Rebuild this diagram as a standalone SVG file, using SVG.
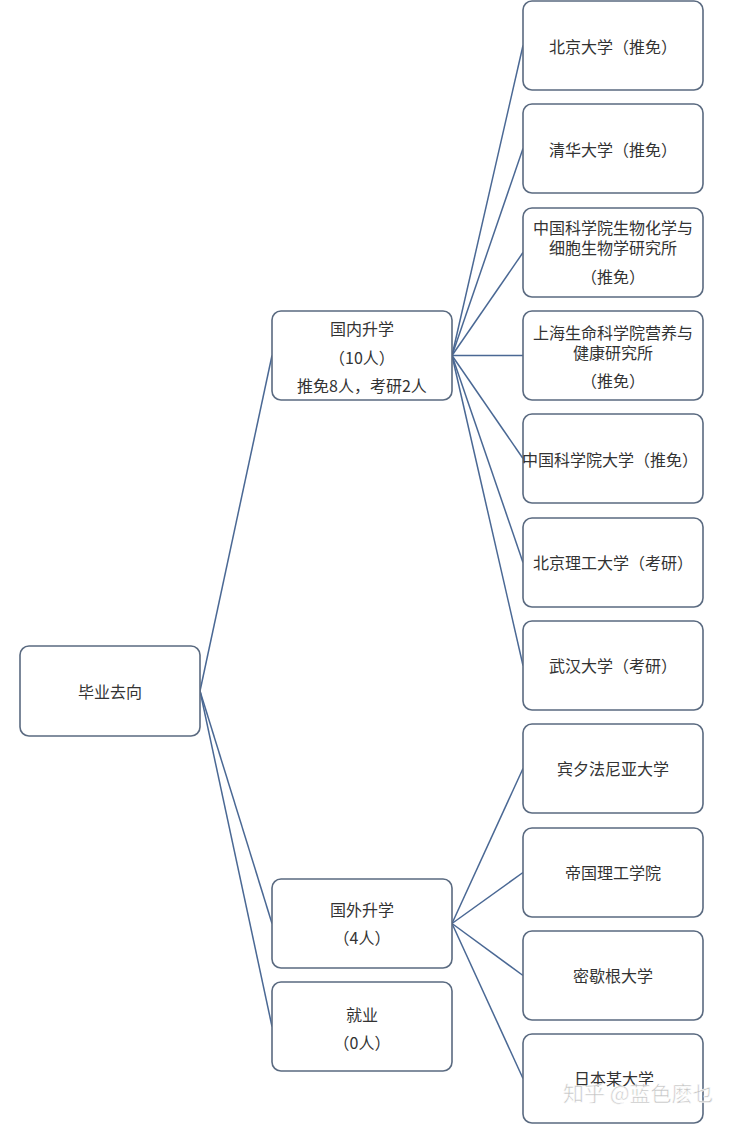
<svg xmlns="http://www.w3.org/2000/svg" width="740" height="1125" viewBox="0 0 740 1125">
<style>
.box{fill:#fff;stroke:#5a6a80;stroke-width:1.6}
.t{font-family:"Noto Sans CJK SC","Noto Sans",sans-serif;font-size:16px;fill:#333;text-anchor:middle;dominant-baseline:central}
.c{fill:none;stroke:#4a6894;stroke-width:1.5}
.wm{font-family:"Noto Sans CJK SC",sans-serif;font-size:21px;fill:#c0c0c0;stroke:#fff;stroke-width:0.6;opacity:0.95}
</style>
<rect width="740" height="1125" fill="#fff"/>
<g id="connectors">
<line class="c" x1="200" y1="691" x2="272" y2="355.5"/>
<line class="c" x1="200" y1="691" x2="272" y2="923.5"/>
<line class="c" x1="200" y1="691" x2="272" y2="1026.5"/>
<line class="c" x1="452" y1="355.5" x2="523" y2="45.5"/>
<line class="c" x1="452" y1="355.5" x2="523" y2="148.5"/>
<line class="c" x1="452" y1="355.5" x2="523" y2="252.5"/>
<line class="c" x1="452" y1="355.5" x2="523" y2="355.5"/>
<line class="c" x1="452" y1="355.5" x2="523" y2="458.5"/>
<line class="c" x1="452" y1="355.5" x2="523" y2="562.5"/>
<line class="c" x1="452" y1="355.5" x2="523" y2="665.5"/>
<line class="c" x1="452" y1="923.5" x2="523" y2="768.5"/>
<line class="c" x1="452" y1="923.5" x2="523" y2="872.5"/>
<line class="c" x1="452" y1="923.5" x2="523" y2="975.5"/>
<line class="c" x1="452" y1="923.5" x2="523" y2="1078.5"/>
</g>
<g id="root"><rect class="box" x="20" y="646" width="180" height="90" rx="9"/><text class="t" x="110" y="691">毕业去向</text></g>
<g id="domestic"><rect class="box" x="272" y="311" width="180" height="89" rx="9"/><text class="t" x="362" y="328">国内升学</text><text class="t" x="362" y="357">（10人）</text><text class="t" x="362" y="385">推免8人，考研2人</text></g>
<g id="abroad"><rect class="box" x="272" y="879" width="180" height="89" rx="9"/><text class="t" x="362" y="909">国外升学</text><text class="t" x="362" y="937">（4人）</text></g>
<g id="job"><rect class="box" x="272" y="982" width="180" height="89" rx="9"/><text class="t" x="362" y="1014">就业</text><text class="t" x="362" y="1042">（0人）</text></g>
<g id="pku"><rect class="box" x="523" y="1" width="180" height="89" rx="9"/><text class="t" x="613" y="46">北京大学（推免）</text></g>
<g id="thu"><rect class="box" x="523" y="104" width="180" height="89" rx="9"/><text class="t" x="613" y="149">清华大学（推免）</text></g>
<g id="sibcb"><rect class="box" x="523" y="208" width="180" height="89" rx="9"/><text class="t" x="613" y="227"><tspan x="613" y="227">中国科学院生物化学与</tspan><tspan x="613" y="247">细胞生物学研究所</tspan></text><text class="t" x="613" y="276">（推免）</text></g>
<g id="sinh"><rect class="box" x="523" y="311" width="180" height="89" rx="9"/><text class="t" x="613" y="332"><tspan x="613" y="332">上海生命科学院营养与</tspan><tspan x="613" y="352">健康研究所</tspan></text><text class="t" x="613" y="380">（推免）</text></g>
<g id="ucas"><rect class="box" x="523" y="414" width="180" height="89" rx="9"/><text class="t" x="610" y="459">中国科学院大学（推免）</text></g>
<g id="bit"><rect class="box" x="523" y="518" width="180" height="89" rx="9"/><text class="t" x="613" y="562">北京理工大学（考研）</text></g>
<g id="whu"><rect class="box" x="523" y="621" width="180" height="89" rx="9"/><text class="t" x="613" y="665">武汉大学（考研）</text></g>
<g id="upenn"><rect class="box" x="523" y="724" width="180" height="89" rx="9"/><text class="t" x="613" y="768">宾夕法尼亚大学</text></g>
<g id="icl"><rect class="box" x="523" y="828" width="180" height="89" rx="9"/><text class="t" x="613" y="872">帝国理工学院</text></g>
<g id="umich"><rect class="box" x="523" y="931" width="180" height="89" rx="9"/><text class="t" x="613" y="975">密歇根大学</text></g>
<g id="japan"><rect class="box" x="523" y="1034" width="180" height="89" rx="9"/><text class="t" x="614" y="1078">日本某大学</text></g>
<text class="wm" x="563" y="1101">知乎 @蓝色麽乜</text>
</svg>
